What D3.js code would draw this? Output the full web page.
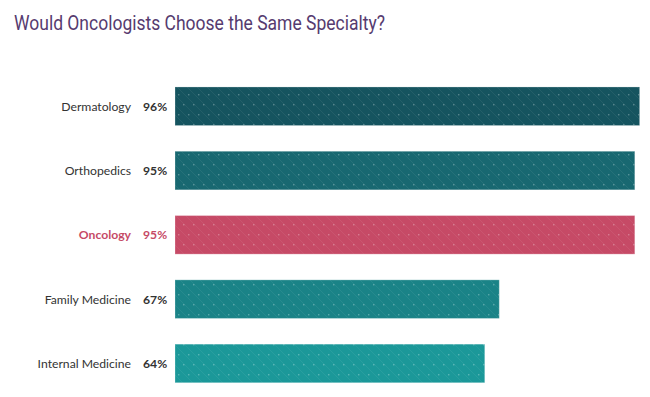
<!DOCTYPE html>
<html><head><meta charset="utf-8">
<script src="https://cdn.jsdelivr.net/npm/d3@7"></script>
<style>body{margin:0;background:#fff}svg{display:block}</style>
</head><body>
<svg id="c" width="650" height="397"></svg>
<script>
const categories = ["Dermatology","Orthopedics","Oncology","Family Medicine","Internal Medicine"];
const values = [96,95,95,67,64];
const barColors = ["#15545f","#186871","#c64a66","#1a8387","#1b9899"];
const labelColors = ["#333","#333","#c64a66","#333","#333"];
const title = "Would Oncologists Choose the Same Specialty?";

const svg = d3.select("#c");
const x = d3.scaleLinear().domain([0,100]).range([175,659]);
const y = d3.scaleBand().domain(categories).range([74.1,395.6]).paddingInner(0.4).paddingOuter(0.2);

const defs = svg.append("defs");
const pat = defs.append("pattern").attr("id","dots").attr("patternUnits","userSpaceOnUse")
  .attr("width",20).attr("height",20);
pat.append("path").attr("d","M-5,-5 L25,25 M-5,5 L15,25 M5,-5 L25,15 M-5,15 L5,25 M15,-5 L25,5")
  .attr("stroke","rgba(255,255,255,0.06)").attr("stroke-width",1);
[[3,4],[13,4],[8,14],[18,14]].forEach(([cx,cy])=>{
  pat.append("rect").attr("x",cx).attr("y",cy).attr("width",1.4).attr("height",1.4).attr("fill","rgba(255,255,255,0.28)");
});

svg.append("text").attr("x",14).attr("y",29.5).text(title)
  .attr("font-family","Roboto, sans-serif").attr("font-size",20).attr("fill","#563b6f")
  .attr("textLength",371).attr("lengthAdjust","spacingAndGlyphs");

const g = svg.selectAll("g.bar").data(categories).enter().append("g");
g.append("rect").attr("x",x(0)).attr("y",d=>y(d)).attr("height",y.bandwidth())
  .attr("width",(d,i)=>x(values[i])-x(0)).attr("fill",(d,i)=>barColors[i]);
g.append("rect").attr("x",x(0)).attr("y",d=>y(d)).attr("height",y.bandwidth())
  .attr("width",(d,i)=>x(values[i])-x(0)).attr("fill","url(#dots)")
  .attr("stroke","rgba(255,255,255,0.25)").attr("stroke-width",1);
g.append("text").attr("x",131).attr("y",d=>y(d)+y.bandwidth()/2+4.5).attr("text-anchor","end")
  .text(d=>d).attr("font-family","Lato, sans-serif").attr("font-size",12.2).attr("fill",(d,i)=>labelColors[i])
  .attr("font-weight",(d,i)=>i===2?700:400);
g.append("text").attr("x",143).attr("y",d=>y(d)+y.bandwidth()/2+4.5)
  .text((d,i)=>values[i]+"%").attr("font-family","Lato, sans-serif").attr("font-size",12.2)
  .attr("font-weight",700).attr("fill",(d,i)=>labelColors[i]);
</script>
</body></html>
